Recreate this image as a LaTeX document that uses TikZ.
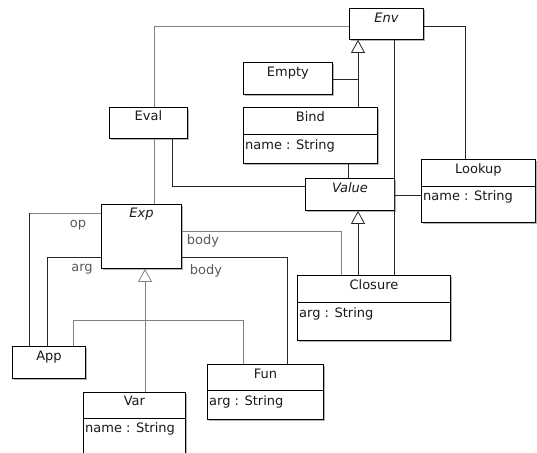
\documentclass[tikz,border=0pt]{standalone}
\usepackage{fontspec}
\setmainfont{DejaVu Sans}
\usetikzlibrary{arrows.meta,shadows}
\begin{document}
\begin{tikzpicture}[x=1pt,y=-1pt,
  box/.style={draw=black, line width=0.9pt, fill=white, inner sep=0pt, anchor=north west,
    drop shadow={shadow xshift=1.6pt, shadow yshift=-1.6pt, fill=black!30, opacity=1}},
  divline/.style={draw=black, line width=0.9pt},
  title/.style={font=\fontsize{13}{15}\selectfont, text=black!90, anchor=mid, inner sep=0pt},
  ititle/.style={title, font=\fontsize{13}{15}\selectfont\itshape},
  attr/.style={font=\fontsize{13}{15}\selectfont, text=black!90, anchor=mid west, inner sep=0pt},
  rolelab/.style={font=\fontsize{13}{15}\selectfont, text=black!65, anchor=mid, inner sep=0pt},
  gline/.style={draw=black!50, line width=0.8pt},
  bline/.style={draw=black!85, line width=0.8pt},
  inh/.style={-{Triangle[open, length=13pt, width=14pt, line width=0.8pt]}}
]
\useasboundingbox (0,0) rectangle (537,452);
\clip (0,0) rectangle (537,452);

% helper columns / rows
\coordinate (c154) at (154,26);
\coordinate (c172) at (172,186);
\coordinate (c358) at (358,79);
\coordinate (c394) at (394,0);
\coordinate (c465) at (465,26);
\coordinate (c348) at (348,0);
\coordinate (r195) at (0,195);
\coordinate (c341) at (341,231);
\coordinate (c287) at (287,257);
\coordinate (c29) at (29,213);
\coordinate (c47) at (47,257);
\coordinate (c145) at (145,320);
\coordinate (c73) at (73,320);
\coordinate (c243) at (243,320);

% boxes
\node[box, minimum width=74pt, minimum height=31pt] (env) at (349,8) {};
\node[box, minimum width=89pt, minimum height=32pt] (empty) at (243,62) {};
\node[box, minimum width=134pt, minimum height=56pt] (bind) at (243,107) {};
\node[box, minimum width=78pt, minimum height=31pt] (eval) at (109,107) {};
\node[box, minimum width=89pt, minimum height=32pt] (value) at (305,178) {};
\node[box, minimum width=114pt, minimum height=63pt] (lookup) at (421,159) {};
\node[box, minimum width=80pt, minimum height=64pt] (exp) at (101,204) {};
\node[box, minimum width=153pt, minimum height=65pt] (closure) at (297,275) {};
\node[box, minimum width=73pt, minimum height=32pt] (app) at (12,346) {};
\node[box, minimum width=116pt, minimum height=55pt] (fun) at (207,364) {};
\node[box, minimum width=102pt, minimum height=90pt] (var) at (83,392) {};

% Eval -- Env
\draw[gline] (eval.north -| c154) -- (c154) -- (env.west |- c154);

% dividers
\draw[divline] ([yshift=-27pt]bind.north west) -- ([yshift=-27pt]bind.north east);
\draw[divline] ([yshift=-27pt]lookup.north west) -- ([yshift=-27pt]lookup.north east);
\draw[divline] ([yshift=-27pt]closure.north west) -- ([yshift=-27pt]closure.north east);
\draw[divline] ([yshift=-26pt]fun.north west) -- ([yshift=-26pt]fun.north east);
\draw[divline] ([yshift=-26pt]var.north west) -- ([yshift=-26pt]var.north east);

% texts
\node[ititle] (tenv) at ([yshift=-11.5pt]env.north) {Env};
\node[title] (tempty) at ([yshift=-11.5pt]empty.north) {Empty};
\node[title] (tbind) at ([yshift=-11.5pt]bind.north) {Bind};
\node[attr] (abind) at ([xshift=2pt,yshift=-40pt]bind.north west) {name : String};
\node[title] (teval) at ([yshift=-11pt]eval.north) {Eval};
\node[ititle] (tvalue) at ([yshift=-12pt]value.north) {Value};
\node[title] (tlookup) at ([yshift=-11.5pt]lookup.north) {Lookup};
\node[attr] (alookup) at ([xshift=2pt,yshift=-38.5pt]lookup.north west) {name : String};
\node[ititle] (texp) at ([yshift=-11pt]exp.north) {Exp};
\node[title] (tclosure) at ([yshift=-11.5pt]closure.north) {Closure};
\node[attr] (aclosure) at ([xshift=2pt,yshift=-40pt]closure.north west) {arg : String};
\node[title] (tapp) at ([yshift=-11.5pt]app.north) {App};
\node[title] (tfun) at ([yshift=-11.5pt]fun.north) {Fun};
\node[attr] (afun) at ([xshift=2pt,yshift=-39pt]fun.north west) {arg : String};
\node[title] (tvar) at ([yshift=-11pt]var.north) {Var};
\node[attr] (avar) at ([xshift=2pt,yshift=-38pt]var.north west) {name : String};

% ---- connectors ----
% Eval -- Exp
\draw[gline] (eval.south -| c154) -- (exp.north -| c154);
% Eval -- Value
\draw[bline] (eval.south -| c172) -- (c172) -- (value.west |- c172);
% Env -- Lookup
\draw[bline] (env.east |- c465) -- (c465) -- (lookup.north -| c465);
% Env -- Closure
\draw[bline] (env.south -| c394) -- (closure.north -| c394);
% Bind, Empty -> Env
\draw[bline, inh] (bind.north -| c358) -- (env.south -| c358);
\draw[bline] (empty.east |- c358) -- (c358);
% Bind -- Value
\draw[bline] (bind.south -| c348) -- (value.north -| c348);
% Value -- Lookup
\draw[bline] (value.east |- r195) -- (lookup.west |- r195);
% Closure -> Value
\draw[bline, inh] (closure.north -| c358) -- (value.south -| c358);
% Exp body -- Closure
\draw[gline] (exp.east |- c341) -- (c341) -- (closure.north -| c341);
% Exp body -- Fun
\draw[bline] (exp.east |- c287) -- (c287) -- (fun.north -| c287);
% Exp op / arg -- App
\draw[gline] (exp.west |- c29) -- (c29);
\draw[bline] (c29) -- (app.north -| c29);
\draw[bline] (exp.west |- c47) -- (c47) -- (app.north -| c47);
% Exp inheritance
\draw[gline, inh] (var.north -| c145) -- (exp.south -| c145);
\draw[gline] (app.north -| c73) -- (c73) -- (c243) -- (fun.north -| c243);

% role labels
\node[rolelab] (lop) at (78,225) {op};
\node[rolelab] (larg) at (82,269) {arg};
\node[rolelab] (lbody1) at (203,242) {body};
\node[rolelab] (lbody2) at (206,272) {body};
\end{tikzpicture}
\end{document}
